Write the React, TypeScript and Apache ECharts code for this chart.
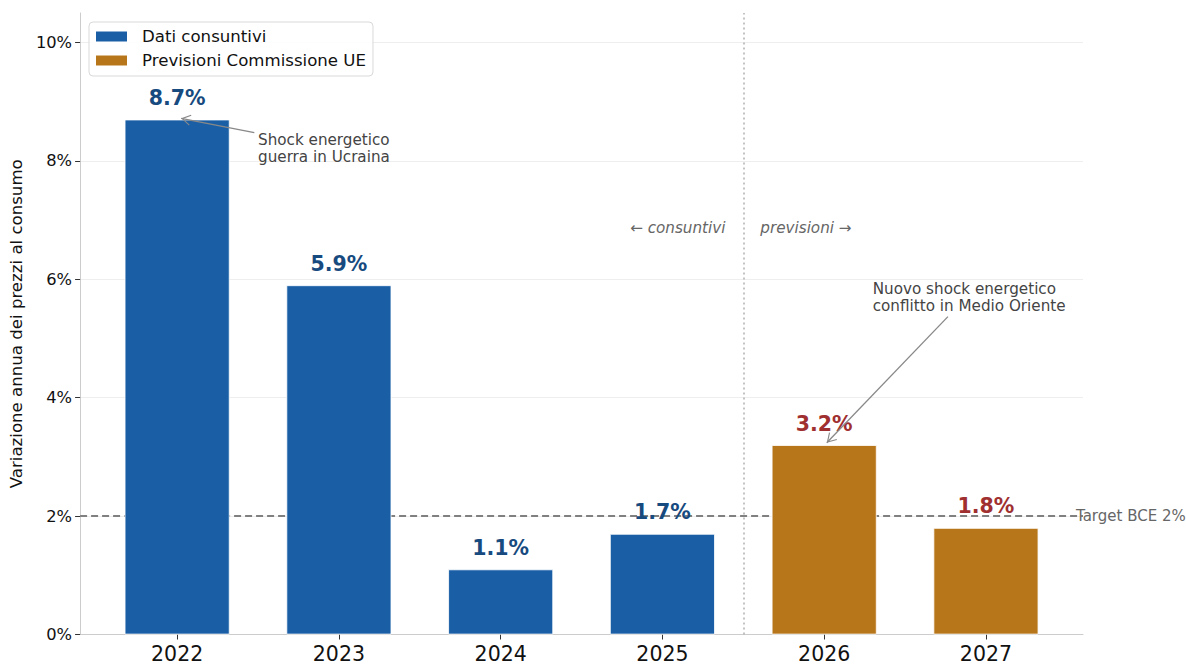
import React, { useEffect, useRef } from "react";
import * as echarts from "echarts";

const years = ["2022", "2023", "2024", "2025", "2026", "2027"];
const actualValues = [8.7, 5.9, 1.1, 1.7];
const forecastValues = [3.2, 1.8];
const targetValue = 2;
const yMax = 10.5;
const xMin = -0.6;
const xMax = 5.6;

const FONT = "DejaVu Sans";
const OPEN_ARROW =
  "path://M0,0 L6,9 L5,9.6 L0,2.2 L-5,9.6 L-6,9 Z M0,-9.6 L0.01,-9.6 L0,-9.59 Z";

export default function App() {
  const ref = useRef<HTMLDivElement>(null);
  useEffect(() => {
    if (!ref.current) return;
    const chart = echarts.init(ref.current, null, { renderer: "svg" });
    const actualData = actualValues.map((v, i) => [i, v]);
    const forecastData = forecastValues.map((v, i) => [i + actualValues.length, v]);
    const splitX = actualValues.length - 0.5;
    const idx = [0, 1, 2, 3, 4, 5];

    const option: any = {
      animation: false,
      backgroundColor: "#ffffff",
      textStyle: { fontFamily: FONT },
      grid: { left: 80, right: 103, top: 13, bottom: 29, containLabel: false },
      legend: {
        data: ["Dati consuntivi", "Previsioni Commissione UE"],
        orient: "vertical",
        left: 89,
        top: 22,
        icon: "rect",
        itemWidth: 33,
        itemHeight: 12,
        itemGap: 7,
        padding: [6, 7, 7, 5],
        borderColor: "#d9d9d9",
        borderWidth: 1,
        borderRadius: 4,
        backgroundColor: "rgba(255,255,255,0.85)",
        textStyle: { fontSize: 16.6, color: "#111", fontFamily: FONT, padding: [0, 0, 0, 9] },
      },
      xAxis: {
        type: "value",
        min: xMin,
        max: xMax,
        splitLine: { show: false },
        axisLine: { show: true, onZero: false, lineStyle: { color: "#cccccc", width: 1 } },
        axisTick: { show: true, customValues: idx, length: 5, lineStyle: { color: "#333" } },
        axisLabel: {
          customValues: idx,
          formatter: (v: number) => years[Math.round(v)] ?? "",
          fontSize: 20.5,
          lineHeight: 20,
          color: "#111",
          margin: 9,
          fontFamily: FONT,
        },
      },
      yAxis: {
        type: "value",
        min: 0,
        max: yMax,
        interval: 2,
        name: "Variazione annua dei prezzi al consumo",
        nameLocation: "middle",
        nameGap: 50,
        nameTextStyle: { fontSize: 16.6, color: "#111", fontFamily: FONT },
        axisLine: { show: true, onZero: false, lineStyle: { color: "#cccccc", width: 1 } },
        axisTick: { show: true, length: 5, lineStyle: { color: "#333" } },
        axisLabel: {
          formatter: "{value}%",
          fontSize: 16.3,
          color: "#111",
          margin: 8,
          showMaxLabel: false,
          fontFamily: FONT,
        },
        splitLine: { show: true, showMaxLine: false, lineStyle: { color: "#eeeeee", width: 1 } },
      },
      series: [
        {
          name: "target",
          type: "line",
          z: 1,
          data: [
            [xMin, targetValue],
            [xMax, targetValue],
          ],
          symbol: "none",
          silent: true,
          clip: false,
          lineStyle: { color: "#808080", width: 2, type: [7, 4] },
          endLabel: {
            show: true,
            formatter: "Target BCE 2%",
            distance: -7,
            fontSize: 15,
            color: "#666",
            fontFamily: FONT,
          },
          markLine: {
            silent: true,
            symbol: "none",
            label: { show: false },
            lineStyle: { color: "#b0b0b0", width: 1.5, type: [2, 3] },
            data: [{ xAxis: splitX }],
          },
        },
        {
          name: "Dati consuntivi",
          type: "bar",
          z: 2,
          barWidth: 105,
          barGap: "-100%",
          data: actualData,
          itemStyle: { color: "#1a5fa6", borderColor: "#ffffff", borderWidth: 0.8 },
          label: {
            show: true,
            position: "top",
            distance: 11,
            formatter: (p: any) => `${p.value[1]}%`,
            fontSize: 20.5,
            fontWeight: "bold",
            color: "#174a7e",
            fontFamily: FONT,
          },
        },
        {
          name: "Previsioni Commissione UE",
          type: "bar",
          z: 2,
          barWidth: 105,
          barGap: "-100%",
          data: forecastData,
          itemStyle: { color: "#b8761a", borderColor: "#ffffff", borderWidth: 0.8 },
          label: {
            show: true,
            position: "top",
            distance: 11,
            formatter: (p: any) => `${p.value[1]}%`,
            fontSize: 20.5,
            fontWeight: "bold",
            color: "#a03030",
            fontFamily: FONT,
          },
        },
        {
          name: "notes",
          type: "line",
          z: 5,
          data: [],
          silent: true,
          markLine: {
            silent: true,
            symbol: ["none", OPEN_ARROW],
            symbolSize: [11, 19],
            label: { show: false },
            lineStyle: { color: "#888888", width: 1.3, type: "solid" },
            itemStyle: { color: "#888888" },
            data: [
              [{ coord: [0.477, 8.48] }, { coord: [0.025, 8.72] }],
              [{ coord: [4.765, 5.37] }, { coord: [4.016, 3.24] }],
            ],
          },
          markPoint: {
            silent: true,
            symbol: "circle",
            symbolSize: 0,
            itemStyle: { color: "transparent" },
            label: {
              show: true,
              fontSize: 15.2,
              lineHeight: 17,
              color: "#444",
              fontFamily: FONT,
            },
            data: [
              {
                coord: [0.5, 8.5],
                label: {
                  formatter: "Shock energetico\nguerra in Ucraina",
                  position: [0, 0],
                  align: "left",
                  verticalAlign: "top",
                },
              },
              {
                coord: [4.3, 5.98],
                label: {
                  formatter: "Nuovo shock energetico\nconflitto in Medio Oriente",
                  position: [0, 0],
                  align: "left",
                  verticalAlign: "top",
                },
              },
              {
                coord: [splitX - 0.11, 6.875],
                label: {
                  formatter: "← consuntivi",
                  position: [0, 0],
                  align: "right",
                  verticalAlign: "middle",
                  fontStyle: "italic",
                  color: "#666",
                },
              },
              {
                coord: [splitX + 0.105, 6.875],
                label: {
                  formatter: "previsioni →",
                  position: [0, 0],
                  align: "left",
                  verticalAlign: "middle",
                  fontStyle: "italic",
                  color: "#666",
                },
              },
            ],
          },
        },
      ],
    };
    chart.setOption(option);
    return () => chart.dispose();
  }, []);
  return (
    <div
      ref={ref}
      style={{ position: "fixed", left: 0, top: 0, width: 1186, height: 664 }}
    />
  );
}
